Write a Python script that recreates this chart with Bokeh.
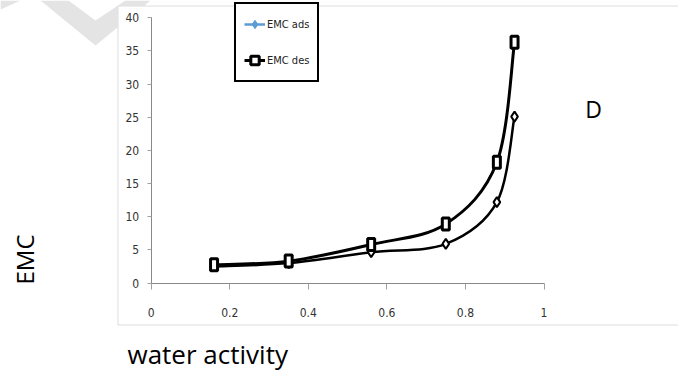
import math
from bokeh.plotting import figure
from bokeh.models import (Range1d, FixedTicker, Label, Legend, LegendItem, BoxAnnotation,
                          PolyAnnotation, ColumnDataSource)
from bokeh.embed import file_html
from bokeh.resources import INLINE

# ---- data ----
aw = [0.16, 0.35, 0.56, 0.75, 0.88, 0.925]
emc_ads = [2.5, 3.0, 4.65, 5.9, 12.2, 25.1]
emc_des = [2.75, 3.3, 5.8, 8.9, 18.2, 36.3]
x_ticks = [0, 0.2, 0.4, 0.6, 0.8, 1]
x_tick_labels = ["0", "0.2", "0.4", "0.6", "0.8", "1"]
y_ticks = [0, 5, 10, 15, 20, 25, 30, 35, 40]

# ---- layout (canvas pixels) ----
W, H = 678, 371
AX_X = 150.7      # canvas x of aw = 0
PX_X = 392.8      # pixels per unit of aw
AX_Y = 282.5      # canvas y of EMC = 0
PX_Y = 6.63       # pixels per unit of EMC

def sx(px):  # canvas px -> data x (for decorations)
    return (px - AX_X) / PX_X

def sy(py):  # canvas px -> data y
    return (AX_Y - py) / PX_Y

NARROW = "DejaVu Sans Condensed, Liberation Sans Narrow, Liberation Sans"

p = figure(width=W, height=H, x_range=Range1d(sx(0), sx(W)), y_range=Range1d(sy(H), sy(0)),
           output_backend="svg", toolbar_location=None,
           min_border_left=0, min_border_right=0, min_border_top=0, min_border_bottom=0)
p.outline_line_color = None
p.xgrid.visible = False
p.ygrid.visible = False
p.background_fill_color = "white"
p.border_fill_color = "white"

for ax in (p.xaxis[0], p.yaxis[0]):
    ax.axis_line_color = "#888888"
    ax.major_tick_line_color = "#a0a0a0"
    ax.minor_tick_line_color = None
    ax.major_tick_in = 0
    ax.major_label_text_font = NARROW
    ax.major_label_text_font_size = "12px"
    ax.major_label_text_color = "#333333"

p.xaxis.fixed_location = 0
p.xaxis.bounds = (0, 1)
p.xaxis.ticker = FixedTicker(ticks=x_ticks)
p.xaxis.major_label_overrides = {t: l for t, l in zip(x_ticks, x_tick_labels)}
p.xaxis.major_tick_out = 6
p.xaxis.major_label_standoff = 19
p.yaxis.fixed_location = 0
p.yaxis.bounds = (0, 40)
p.yaxis.ticker = FixedTicker(ticks=y_ticks)
p.yaxis.major_tick_out = 4
p.yaxis.major_label_standoff = 8

# ---- decorations: watermark and chart border ----
wm = [(40, 0), (95, 45), (117, 27), (117, 5), (144, 5), (150, 0), (125, 0), (95, 20), (68, 0)]
p.add_layout(PolyAnnotation(xs=[sx(a) for a, b in wm], ys=[sy(b) for a, b in wm],
                            fill_color="#e4e4e4", fill_alpha=1, line_color=None, level="underlay"))
wm2 = [(0, 0), (20, 0), (0, 9)]
p.add_layout(PolyAnnotation(xs=[sx(a) for a, b in wm2], ys=[sy(b) for a, b in wm2],
                            fill_color="#e4e4e4", fill_alpha=1, line_color=None, level="underlay"))
p.add_layout(BoxAnnotation(left=sx(117.5), right=sx(720), bottom=sy(324.5), top=sy(5.5),
                           fill_color=None, fill_alpha=0, line_color="#8a8a8a", line_width=1,
                           level="underlay"))

# ---- smooth curves (Excel-style Catmull-Rom bezier) ----
def bezier_src(x, y):
    n = len(x)
    d = dict(x0=[], y0=[], x1=[], y1=[], cx0=[], cy0=[], cx1=[], cy1=[])
    for i in range(n - 1):
        pm = i - 1 if i > 0 else i
        pp = i + 2 if i + 2 < n else i + 1
        d["x0"].append(x[i]); d["y0"].append(y[i])
        d["x1"].append(x[i + 1]); d["y1"].append(y[i + 1])
        d["cx0"].append(x[i] + (x[i + 1] - x[pm]) / 6)
        d["cy0"].append(y[i] + (y[i + 1] - y[pm]) / 6)
        d["cx1"].append(x[i + 1] - (x[pp] - x[i]) / 6)
        d["cy1"].append(y[i + 1] - (y[pp] - y[i]) / 6)
    return ColumnDataSource(d)

p.bezier(x0="x0", y0="y0", x1="x1", y1="y1", cx0="cx0", cy0="cy0", cx1="cx1", cy1="cy1",
         source=bezier_src(aw, emc_ads), line_color="black", line_width=2.5)
p.bezier(x0="x0", y0="y0", x1="x1", y1="y1", cx0="cx0", cy0="cy0", cx1="cx1", cy1="cy1",
         source=bezier_src(aw, emc_des), line_color="black", line_width=3)

p.scatter(aw, emc_ads, marker="diamond", size=10, fill_color="white", line_color="black", line_width=2)
p.rect(aw, emc_des, width=7, height=12, width_units="screen", height_units="screen",
       fill_color="white", line_color="black", line_width=3)

# ---- legend swatches: same series mapped onto an off-canvas range ----
p.extra_y_ranges = {"hidden": Range1d(1000, 1001)}
l_ads = p.line(aw, emc_ads, line_color="#5b9bd5", line_width=2.5, y_range_name="hidden")
m_ads = p.scatter(aw, emc_ads, marker="diamond", size=8, fill_color="#5b9bd5",
                  line_color="#5b9bd5", y_range_name="hidden")
l_des = p.line(aw, emc_des, line_color="black", line_width=3, y_range_name="hidden")
m_des = p.scatter(aw, emc_des, marker="square", size=9, fill_color="white", line_color="black",
                  line_width=3, y_range_name="hidden")

legend = Legend(items=[LegendItem(label="EMC ads", renderers=[l_ads, m_ads]),
                       LegendItem(label="EMC des", renderers=[l_des, m_des])],
                location=(234, H - 82), padding=8, spacing=12, glyph_height=24, label_height=24,
                glyph_width=21, label_standoff=2, margin=0,
                border_line_color="black", border_line_width=2, border_line_alpha=1,
                background_fill_color="white", background_fill_alpha=1,
                label_text_font=NARROW, label_text_font_size="11px", label_text_color="#222222")
p.add_layout(legend, "center")

# ---- texts outside the axes ----
p.add_layout(Label(x=sx(24), y=sy(259), text="EMC", angle=math.pi / 2, text_align="center",
                   text_baseline="middle", text_font="Open Sans", text_font_size="24px",
                   text_color="black"))
p.add_layout(Label(x=sx(127), y=sy(353.5), text="water activity", text_align="left",
                   text_baseline="alphabetic", text_font="Open Sans", text_font_size="26px",
                   text_color="black"))
p.add_layout(Label(x=sx(593), y=sy(108.5), text="D", text_align="center",
                   text_baseline="middle", text_font="Open Sans", text_font_size="23px",
                   text_color="black"))

open("out.html", "w").write(file_html(p, INLINE))
